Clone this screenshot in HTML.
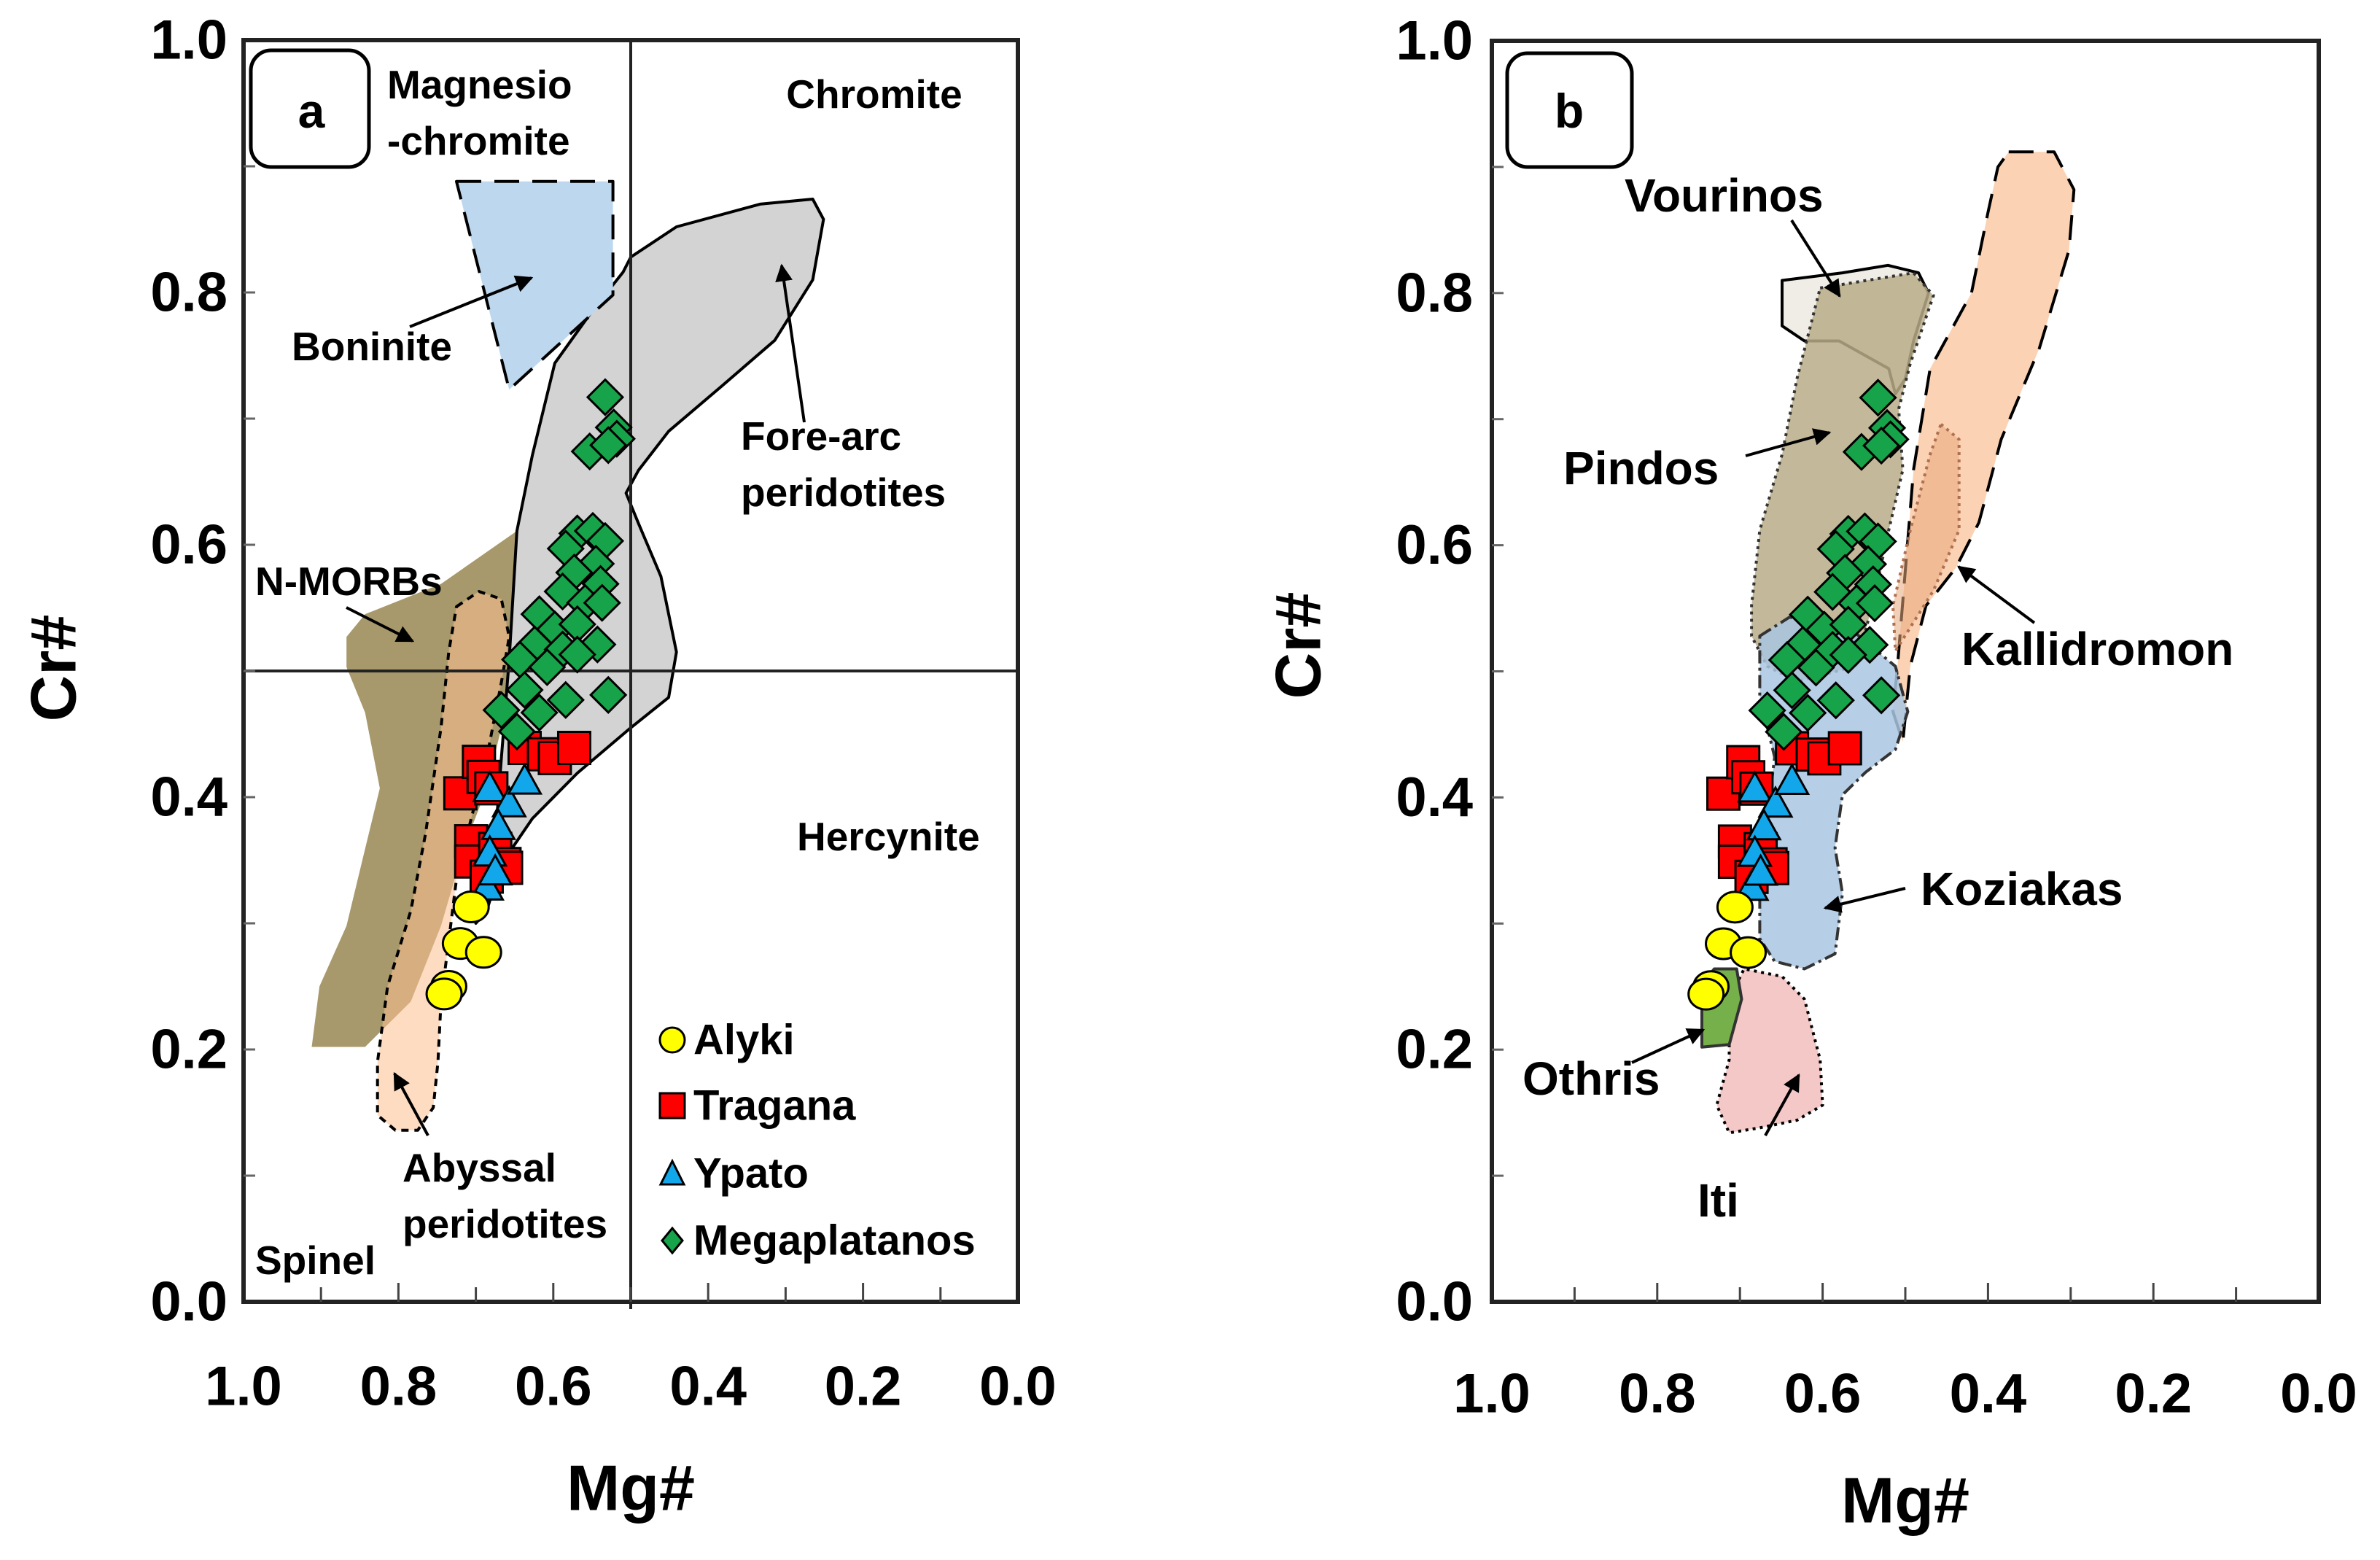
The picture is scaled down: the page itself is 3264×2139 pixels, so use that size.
<!DOCTYPE html>
<html><head><meta charset="utf-8"><style>
html,body{margin:0;padding:0;background:#fff;}
svg{display:block;font-family:"Liberation Sans",sans-serif;font-weight:bold;}
</style></head><body>
<svg id="chart" width="3264" height="2139" viewBox="0 0 3264 2139" xmlns="http://www.w3.org/2000/svg">
<rect width="3264" height="2139" fill="#fff"/>
<g id="panelA"></g>
<g id="panelB"></g>
<g fill="#000">
  <text x="73" y="916" font-size="88" text-anchor="middle" dominant-baseline="central" transform="rotate(-90 73 916)">Cr#</text>
  <text x="865" y="2040" font-size="88" text-anchor="middle" dominant-baseline="central">Mg#</text>
  <rect x="344" y="69" width="162" height="160" rx="28" fill="#fff" stroke="#000" stroke-width="5"/>
  <text x="427" y="152" font-size="66" text-anchor="middle" dominant-baseline="central">a</text>
  <text x="531" y="135" font-size="55">Magnesio</text>
  <text x="531" y="212" font-size="55">-chromite</text>
  <text x="1199" y="148" font-size="55" text-anchor="middle">Chromite</text>
  <text x="400" y="494" font-size="55">Boninite</text>
  <text x="1016" y="617" font-size="55">Fore-arc</text>
  <text x="1016" y="694" font-size="55">peridotites</text>
  <text x="350" y="816" font-size="55">N-MORBs</text>
  <text x="1093" y="1166" font-size="55">Hercynite</text>
  <text x="552" y="1620" font-size="55">Abyssal</text>
  <text x="552" y="1697" font-size="55">peridotites</text>
  <text x="350" y="1747" font-size="55">Spinel</text>
</g>
<g fill="#000">
  <text x="1780" y="885" font-size="88" text-anchor="middle" dominant-baseline="central" transform="rotate(-90 1780 885)">Cr#</text>
  <text x="2613" y="2057" font-size="88" text-anchor="middle" dominant-baseline="central">Mg#</text>
  <rect x="2067" y="73" width="171" height="156" rx="28" fill="#fff" stroke="#000" stroke-width="5"/>
  <text x="2152" y="152" font-size="66" text-anchor="middle" dominant-baseline="central">b</text>
  <text x="2228" y="290" font-size="64">Vourinos</text>
  <text x="2144" y="664" font-size="64">Pindos</text>
  <text x="2690" y="912" font-size="64">Kallidromon</text>
  <text x="2634" y="1241" font-size="64">Koziakas</text>
  <text x="2088" y="1501" font-size="64">Othris</text>
  <text x="2328" y="1668" font-size="64">Iti</text>
</g>
<defs>
<marker id="ah" viewBox="0 0 10 10" refX="9" refY="5" markerWidth="6" markerHeight="6" orient="auto"><path d="M0,0 L10,5 L0,10 z" fill="#000"/></marker>
</defs>
<g stroke="#000" stroke-width="4" marker-end="url(#ah)">
  <line x1="562" y1="448" x2="729" y2="381"/>
  <line x1="1103" y1="579" x2="1072" y2="364"/>
  <line x1="475" y1="833" x2="566" y2="879"/>
  <line x1="587" y1="1557" x2="541" y2="1472"/>
  <line x1="2457" y1="302" x2="2523" y2="406"/>
  <line x1="2394" y1="625" x2="2509" y2="593"/>
  <line x1="2790" y1="854" x2="2686" y2="777"/>
  <line x1="2613" y1="1218" x2="2503" y2="1245"/>
  <line x1="2238" y1="1457" x2="2336" y2="1412"/>
  <line x1="2421" y1="1557" x2="2467" y2="1474"/>
</g>
</svg>
<script>
const alykiMg = [0.706,0.720,0.690,0.735,0.741];
const alykiCr = [0.313,0.284,0.277,0.250,0.244];
const traganaMg = [0.720,0.696,0.690,0.680,0.637,0.612,0.598,0.573,0.706,0.706,0.675,0.663,0.686,0.661];
const traganaCr = [0.403,0.428,0.416,0.407,0.439,0.434,0.431,0.439,0.365,0.349,0.359,0.347,0.337,0.344];
const ypatoMg = [0.682,0.657,0.637,0.671,0.682,0.686,0.675];
const ypatoCr = [0.407,0.395,0.413,0.377,0.356,0.329,0.341];
const megaMg = [0.533,0.522,0.518,0.553,0.529,0.569,0.549,0.533,0.584,0.545,0.573,0.539,0.588,0.559,0.618,0.537,0.598,0.569,0.543,0.624,0.588,0.643,0.608,0.569,0.637,0.584,0.529,0.667,0.618,0.647];
const megaCr = [0.717,0.693,0.684,0.674,0.679,0.609,0.611,0.603,0.597,0.585,0.578,0.569,0.563,0.554,0.545,0.554,0.533,0.537,0.521,0.521,0.517,0.509,0.503,0.513,0.485,0.477,0.481,0.469,0.467,0.452];
const xTicks = [1.0,0.8,0.6,0.4,0.2,0.0];
const yTicks = [0.0,0.2,0.4,0.6,0.8,1.0];
const xTickLabels = ["1.0","0.8","0.6","0.4","0.2","0.0"];
const yTickLabels = ["0.0","0.2","0.4","0.6","0.8","1.0"];
const boninite = [[0.725,0.888],[0.523,0.888],[0.523,0.798],[0.657,0.723]];
const foreArc = [[0.657,0.509],[0.647,0.611],[0.627,0.671],[0.598,0.744],[0.549,0.786],[0.51,0.816],[0.50,0.828],[0.441,0.852],[0.333,0.870],[0.265,0.874],[0.251,0.858],[0.265,0.810],[0.314,0.762],[0.382,0.726],[0.451,0.690],[0.49,0.659],[0.506,0.641],[0.49,0.617],[0.461,0.575],[0.441,0.515],[0.451,0.479],[0.50,0.455],[0.569,0.419],[0.627,0.383],[0.667,0.347],[0.686,0.310],[0.70,0.300],[0.676,0.359],[0.667,0.431]];
const nMorb = [[0.867,0.527],[0.843,0.545],[0.745,0.569],[0.647,0.611],[0.637,0.503],[0.667,0.455],[0.686,0.407],[0.716,0.359],[0.745,0.298],[0.784,0.238],[0.843,0.202],[0.912,0.202],[0.902,0.250],[0.867,0.298],[0.843,0.359],[0.824,0.407],[0.843,0.467],[0.867,0.503]];
const abyssal = [[0.725,0.551],[0.696,0.563],[0.667,0.557],[0.657,0.527],[0.667,0.491],[0.686,0.431],[0.706,0.383],[0.725,0.335],[0.735,0.286],[0.745,0.238],[0.749,0.190],[0.755,0.154],[0.775,0.136],[0.804,0.136],[0.827,0.148],[0.827,0.190],[0.814,0.250],[0.784,0.310],[0.765,0.371],[0.745,0.455],[0.735,0.515]];
const vourinos = [[0.649,0.810],[0.576,0.816],[0.521,0.822],[0.484,0.816],[0.472,0.800],[0.49,0.762],[0.50,0.732],[0.512,0.720],[0.52,0.74],[0.58,0.762],[0.622,0.762],[0.649,0.774]];
const pindos = [[0.603,0.804],[0.49,0.816],[0.466,0.798],[0.494,0.744],[0.508,0.708],[0.503,0.660],[0.52,0.612],[0.54,0.552],[0.56,0.504],[0.631,0.492],[0.667,0.504],[0.686,0.528],[0.686,0.552],[0.676,0.612],[0.649,0.672],[0.631,0.732]];
const kalli = [[0.375,0.912],[0.320,0.912],[0.296,0.882],[0.302,0.834],[0.338,0.756],[0.384,0.684],[0.411,0.618],[0.439,0.582],[0.475,0.552],[0.494,0.504],[0.503,0.444],[0.515,0.468],[0.51,0.50],[0.50,0.58],[0.49,0.66],[0.47,0.74],[0.42,0.80],[0.40,0.864],[0.388,0.900]];
const kalliInner = [[0.457,0.696],[0.435,0.684],[0.435,0.612],[0.466,0.564],[0.512,0.516],[0.515,0.552],[0.494,0.612],[0.47,0.672]];
const koziakas = [[0.676,0.528],[0.64,0.543],[0.567,0.534],[0.512,0.504],[0.497,0.468],[0.512,0.438],[0.548,0.420],[0.576,0.402],[0.585,0.360],[0.576,0.324],[0.585,0.276],[0.622,0.264],[0.658,0.270],[0.676,0.288],[0.676,0.336],[0.667,0.384],[0.658,0.432],[0.676,0.480]];
const othris = [[0.746,0.252],[0.731,0.264],[0.704,0.264],[0.698,0.240],[0.713,0.204],[0.746,0.202]];
const iti = [[0.713,0.240],[0.695,0.264],[0.649,0.258],[0.622,0.240],[0.603,0.192],[0.600,0.156],[0.631,0.144],[0.676,0.138],[0.713,0.134],[0.728,0.156],[0.713,0.192]];

const NS = "http://www.w3.org/2000/svg";
function mk(parent, tag, attrs){const e=document.createElementNS(NS,tag);for(const k in attrs)e.setAttribute(k,attrs[k]);parent.appendChild(e);return e;}
function axis(p){return {sx:m=>p.x0+(1-m)*(p.x1-p.x0), sy:c=>p.y1-c*(p.y1-p.y0)};}
function poly(g,ax,pts,fill,stroke,dash,op,name){
  const d=pts.map(q=>ax.sx(q[0]).toFixed(1)+","+ax.sy(q[1]).toFixed(1)).join(" ");
  const e=mk(g,"polygon",{points:d,fill:fill,stroke:stroke,"stroke-width":4,"stroke-dasharray":dash,"fill-opacity":op,"stroke-linejoin":"round"});
  
  
}
function frame(g,p,ax,labelRight,xLabY){
  const f=mk(g,"rect",{x:p.x0,y:p.y0,width:p.x1-p.x0,height:p.y1-p.y0,fill:"none",stroke:"#222","stroke-width":6});
  
  
  for(let i=1;i<10;i++){
    const v=i/10, len=(i%2===0)?26:20;
    const t=mk(g,"line",{x1:ax.sx(v),x2:ax.sx(v),y1:p.y1,y2:p.y1-len,stroke:"#444","stroke-width":3});
    
    
    const u=mk(g,"line",{x1:p.x0,x2:p.x0+16,y1:ax.sy(v),y2:ax.sy(v),stroke:"#666","stroke-width":3});
    
    
  }
  xTicks.forEach((v,i)=>{
    const t=mk(g,"text",{x:ax.sx(v),y:xLabY,"font-size":76,"text-anchor":"middle","dominant-baseline":"central"});
    t.textContent=xTickLabels[i];
    
    
  });
  yTicks.forEach((v,i)=>{
    const t=mk(g,"text",{x:labelRight,y:ax.sy(v),"font-size":76,"text-anchor":"end","dominant-baseline":"central"});
    t.textContent=yTickLabels[i];
    
    
  });
}
function points(g,ax){
  const sq=22, tr=22, dm=24;
  traganaMg.forEach((m,i)=>{const x=ax.sx(m),y=ax.sy(traganaCr[i]);
    const e=mk(g,"rect",{x:x-sq,y:y-sq,width:2*sq,height:2*sq,fill:"#ff0000",stroke:"#000","stroke-width":3});
    
    });
  megaMg.forEach((m,i)=>{const x=ax.sx(m),y=ax.sy(megaCr[i]);
    const e=mk(g,"polygon",{points:`${x},${y-dm} ${x+dm},${y} ${x},${y+dm} ${x-dm},${y}`,fill:"#17a34a",stroke:"#000","stroke-width":3});
    
    });
  ypatoMg.forEach((m,i)=>{const x=ax.sx(m),y=ax.sy(ypatoCr[i]);
    const e=mk(g,"polygon",{points:`${x},${y-tr} ${x+tr},${y+tr*0.8} ${x-tr},${y+tr*0.8}`,fill:"#12a7ea",stroke:"#000","stroke-width":3});
    
    });
  alykiMg.forEach((m,i)=>{const x=ax.sx(m),y=ax.sy(alykiCr[i]);
    const e=mk(g,"ellipse",{cx:x,cy:y,rx:24,ry:21,fill:"#ffff00",stroke:"#000","stroke-width":3});
    
    });
}
const pa={x0:334,x1:1396,y0:55,y1:1785}; const axA=axis(pa); const gA=document.getElementById("panelA");
poly(gA,axA,nMorb,"#a8996c","none","",1,"n-morb-field");
poly(gA,axA,foreArc,"#d3d3d3","#000","",1,"fore-arc-field");
poly(gA,axA,abyssal,"#fbbf90","#000","10 8",0.55,"abyssal-field");
poly(gA,axA,boninite,"#bdd7ee","#000","34 18",1,"boninite-field");
const vl=mk(gA,"line",{x1:axA.sx(0.5),x2:axA.sx(0.5),y1:pa.y0,y2:pa.y1+10,stroke:"#222","stroke-width":4});


const hl=mk(gA,"line",{x1:pa.x0,x2:pa.x1,y1:axA.sy(0.5),y2:axA.sy(0.5),stroke:"#222","stroke-width":4});


points(gA,axA);
frame(gA,pa,axA,312,1901);
const legNames=["Alyki","Tragana","Ypato","Megaplatanos"]; const legY=[1426,1516,1609,1701];
legNames.forEach((n,i)=>{
  const y=legY[i], x=922;
  let s;
  if(i===0) s=mk(gA,"circle",{cx:x,cy:y,r:17,fill:"#ffff00",stroke:"#000","stroke-width":3});
  if(i===1) s=mk(gA,"rect",{x:x-17,y:y-17,width:34,height:34,fill:"#ff0000",stroke:"#000","stroke-width":3});
  if(i===2) s=mk(gA,"polygon",{points:`${x},${y-17} ${x+16},${y+15} ${x-16},${y+15}`,fill:"#12a7ea",stroke:"#000","stroke-width":3});
  if(i===3) s=mk(gA,"polygon",{points:`${x},${y-17} ${x+14},${y} ${x},${y+17} ${x-14},${y}`,fill:"#17a34a",stroke:"#000","stroke-width":3});
  
  
  const t=mk(gA,"text",{x:951,y:y,"font-size":58,"dominant-baseline":"central"});
  t.textContent=n;
  
  
});
const pb={x0:2046,x1:3180,y0:56,y1:1785}; const axB=axis(pb); const gB=document.getElementById("panelB");
poly(gB,axB,kalli,"#fbd3b4","#000","34 18",1,"kallidromon-field");
poly(gB,axB,vourinos,"#efede6","#000","",1,"vourinos-field");
poly(gB,axB,pindos,"#b8ad88","#333","4 6",0.85,"pindos-field");
poly(gB,axB,kalliInner,"#e8a87c","#b07050","4 6",0.55,"kallidromon-inner-field");
poly(gB,axB,koziakas,"#a9c6e2","#333","18 6 4 6",0.85,"koziakas-field");
poly(gB,axB,iti,"#f5c8c8","#000","4 6",1,"iti-field");
poly(gB,axB,othris,"#76b04a","#333","",1,"othris-field");
points(gB,axB);
frame(gB,pb,axB,2020,1911);
</script>
</body></html>
